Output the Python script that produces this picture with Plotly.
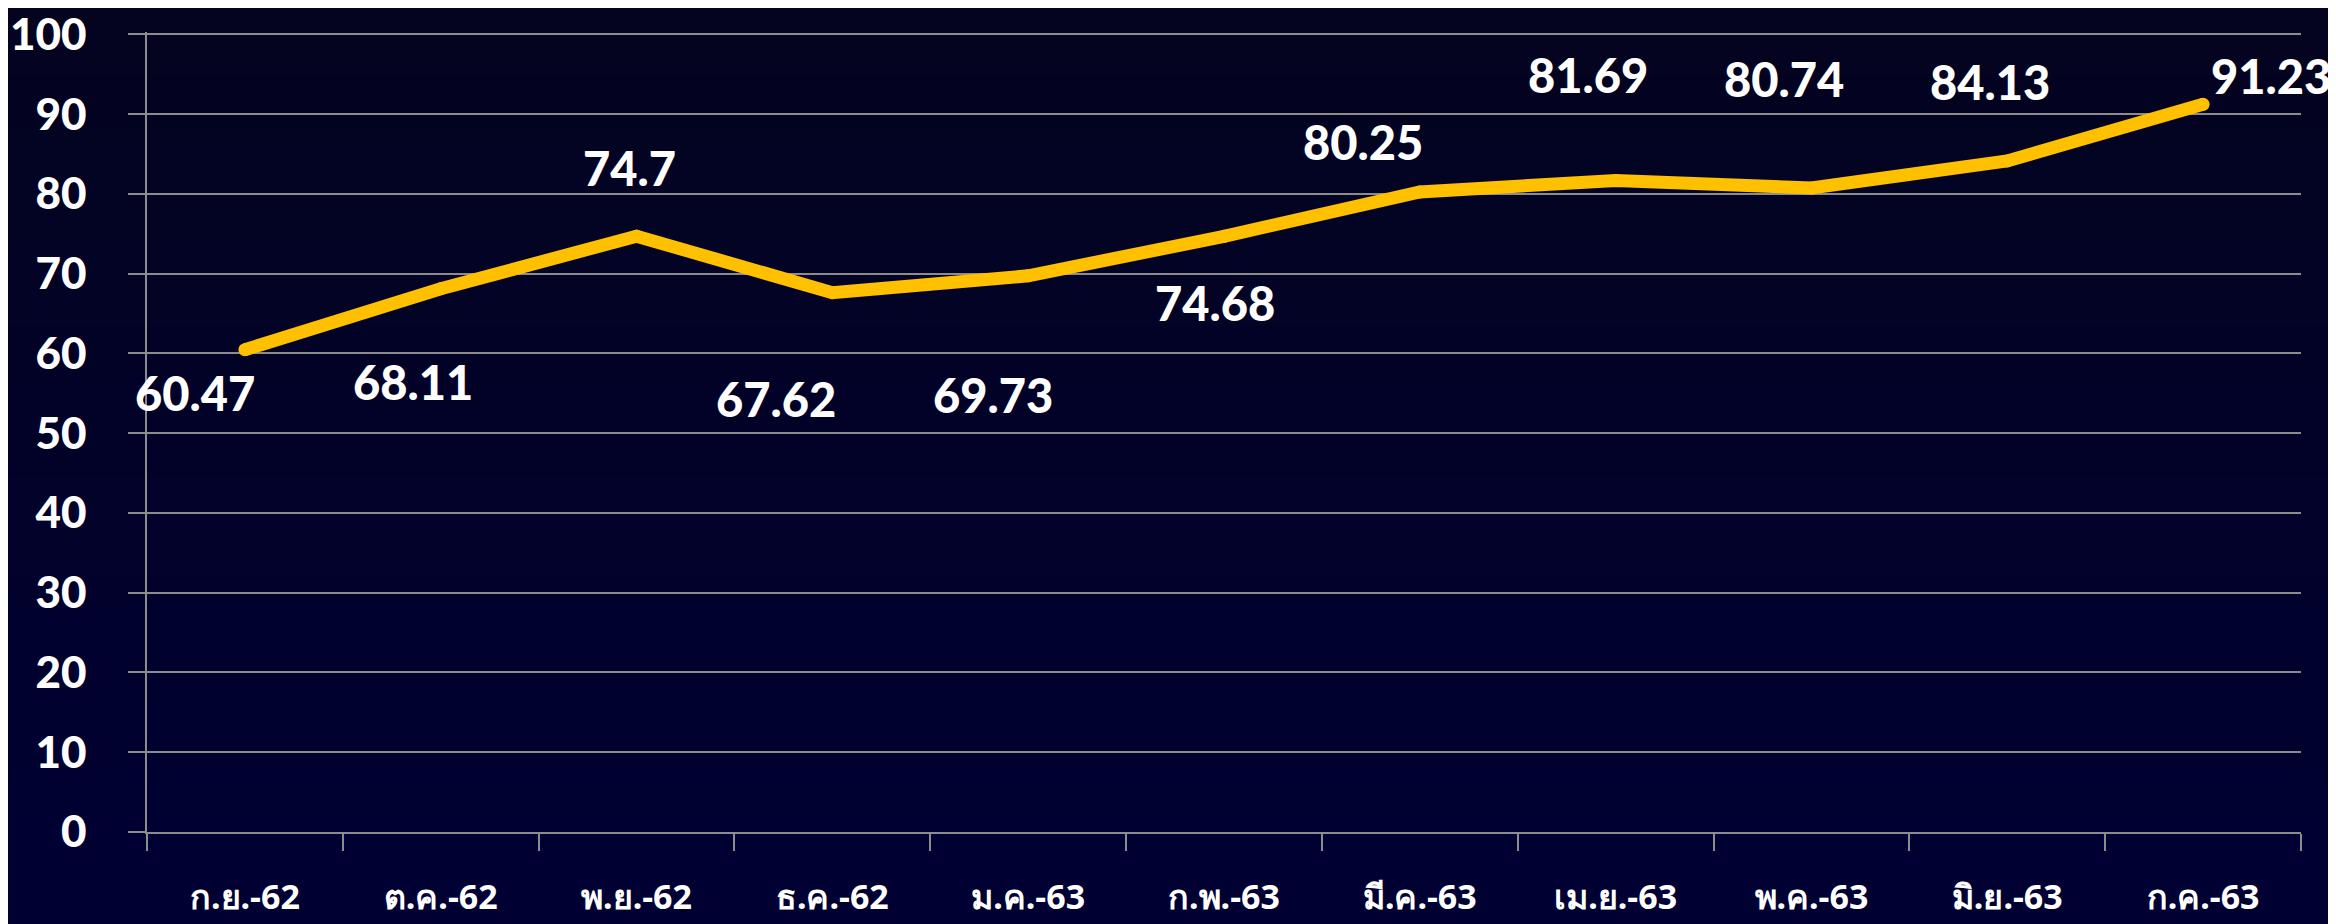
import plotly.graph_objects as go

# ข้อมูล
months = ["ก.ย.-62", "ต.ค.-62", "พ.ย.-62", "ธ.ค.-62", "ม.ค.-63", "ก.พ.-63",
          "มี.ค.-63", "เม.ย.-63", "พ.ค.-63", "มิ.ย.-63", "ก.ค.-63"]
values = [60.47, 68.11, 74.7, 67.62, 69.73, 74.68, 80.25, 81.69, 80.74, 84.13, 91.23]
y_ticks = [0, 10, 20, 30, 40, 50, 60, 70, 80, 90, 100]

# décalage des étiquettes (pixels) comme dans l'original
label_dx = [-50, -28, -7, -56, -35, -9, -57, -28, -27, -17, 68]
label_dy = [-43, -93, 68, -106, -119, -67, 50, 105, 109, 79, 28]

# la page a une marge de 8 px, donc figure un peu plus petite
W, H = 2328, 916
gold = "#FFC000"
grid = "#8c8c8c"

fig = go.Figure()
fig.add_trace(go.Scatter(
    x=months, y=values, mode="lines+markers",
    line=dict(color=gold, width=13),
    marker=dict(color=gold, size=13),
    hoverinfo="x+y",
))

for m, v, dx, dy in zip(months, values, label_dx, label_dy):
    fig.add_annotation(x=m, y=v, text=f"{v:g}", showarrow=False,
                       xshift=dx, yshift=dy,
                       font=dict(family="Lato", size=47, color="white", weight=900))

# fond en dégradé (bandes)
top = (4, 4, 30)
bot = (0, 0, 52)
n = 40
for i in range(n):
    t = i / (n - 1)
    c = tuple(round(top[k] + (bot[k] - top[k]) * t) for k in range(3))
    fig.add_shape(type="rect", xref="paper", yref="paper",
                  x0=-0.1, x1=1.1,
                  y0=1.1 - (i + 1) * 1.25 / n, y1=1.1 - i * 1.25 / n + 0.002,
                  fillcolor="rgb(%d,%d,%d)" % c, line_width=0, layer="below")

fig.update_layout(
    width=W, height=H,
    margin=dict(l=139, r=35, t=24, b=92),
    paper_bgcolor="#01012a",
    plot_bgcolor="rgba(0,0,0,0)",
    showlegend=False,
    xaxis=dict(
        type="category",
        automargin=False,
        range=[-0.5, len(months) - 0.5],
        showgrid=False,
        showline=True, linecolor=grid, linewidth=2,
        ticks="outside", ticklen=17, tickcolor=grid, tickwidth=2,
        tickson="boundaries",
        ticklabelstandoff=34,
        tickfont=dict(family="Noto Sans", size=34, color="white", weight="bold"),
    ),
    yaxis=dict(
        automargin=False,
        range=[0, 100.3],
        tickvals=y_ticks,
        ticklabeloverflow="allow",
        showgrid=True, gridcolor=grid, gridwidth=1.5,
        showline=True, linecolor=grid, linewidth=1.5,
        zeroline=False,
        ticks="outside", ticklen=17, tickcolor=grid, tickwidth=1.5,
        ticklabelstandoff=33,
        tickfont=dict(family="Lato", size=44, color="white", weight=900),
    ),
)

fig.write_html("out.html")
